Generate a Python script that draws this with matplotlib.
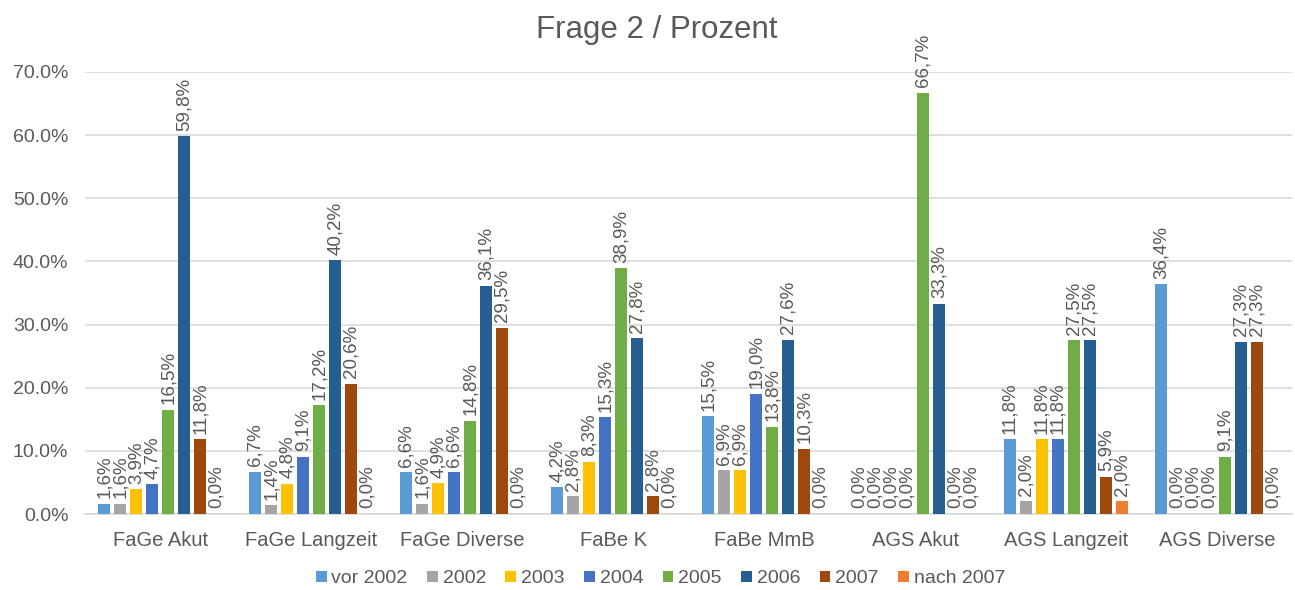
import matplotlib
matplotlib.use("Agg")
import matplotlib.pyplot as plt
import numpy as np

categories = ["FaGe Akut", "FaGe Langzeit", "FaGe Diverse", "FaBe K", "FaBe MmB",
              "AGS Akut", "AGS Langzeit", "AGS Diverse"]
series_names = ["vor 2002", "2002", "2003", "2004", "2005", "2006", "2007", "nach 2007"]
vor_2002 = [1.6, 6.7, 6.6, 4.2, 15.5, 0.0, 11.8, 36.4]
y2002 = [1.6, 1.4, 1.6, 2.8, 6.9, 0.0, 2.0, 0.0]
y2003 = [3.9, 4.8, 4.9, 8.3, 6.9, 0.0, 11.8, 0.0]
y2004 = [4.7, 9.1, 6.6, 15.3, 19.0, 0.0, 11.8, 0.0]
y2005 = [16.5, 17.2, 14.8, 38.9, 13.8, 66.7, 27.5, 9.1]
y2006 = [59.8, 40.2, 36.1, 27.8, 27.6, 33.3, 27.5, 27.3]
y2007 = [11.8, 20.6, 29.5, 2.8, 10.3, 0.0, 5.9, 27.3]
nach_2007 = [0.0, 0.0, 0.0, 0.0, 0.0, 0.0, 2.0, 0.0]
series_values = [vor_2002, y2002, y2003, y2004, y2005, y2006, y2007, nach_2007]
colors = ["#5B9BD5", "#A5A5A5", "#FFC000", "#4472C4", "#70AD47", "#255E91", "#9E480E", "#ED7D31"]
yticks = [0, 10, 20, 30, 40, 50, 60, 70]

plt.rcParams['font.family'] = ['Liberation Sans', 'DejaVu Sans']
text_color = "#595959"

fig = plt.figure(figsize=(12.95, 5.90), dpi=100)
ax = fig.add_axes([0.0656, 0.1288, 0.9324, 0.7492])

x = np.arange(len(categories))
slot = 0.106
width = 0.08
n = len(series_names)
for i, (name, vals, c) in enumerate(zip(series_names, series_values, colors)):
    pos = x + (i - (n - 1) / 2) * slot
    ax.bar(pos, vals, width=width, color=c, label=name, zorder=3)
    for xp, v in zip(pos, vals):
        ax.annotate(f"{v:.1f}%".replace(".", ","), xy=(xp, v), xytext=(0, 4),
                    textcoords="offset points", rotation=90, ha="center", va="bottom",
                    fontsize=13.5, color=text_color, annotation_clip=False)

ax.set_xlim(-0.5, len(categories) - 0.5)
ax.set_ylim(0, 70)
ax.set_yticks(yticks)
ax.set_yticklabels([f"{t:.1f}%" for t in yticks], fontsize=14, color=text_color)
ax.set_xticks(x)
ax.set_xticklabels(categories, fontsize=14.5, color=text_color)
ax.tick_params(axis='both', length=0)
ax.tick_params(axis='x', pad=12)
ax.tick_params(axis='y', pad=12)
ax.grid(axis='y', color="#D9D9D9", linewidth=1.2, zorder=0)
for s in ["top", "right", "left"]:
    ax.spines[s].set_visible(False)
ax.spines["bottom"].set_color("#D9D9D9")
ax.spines["bottom"].set_linewidth(1.2)

fig.suptitle("Frage 2 / Prozent", x=0.507, y=0.975, fontsize=22.5, color=text_color, va="top")

handles, labels = ax.get_legend_handles_labels()
leg = fig.legend(handles, labels, loc="lower center", ncol=8, bbox_to_anchor=(0.51, -0.025),
                 frameon=False, fontsize=14, handlelength=0.55, handleheight=0.55,
                 handletextpad=0.25, columnspacing=1.0)
for t in leg.get_texts():
    t.set_color(text_color)

fig.savefig("out.png", dpi=100)
